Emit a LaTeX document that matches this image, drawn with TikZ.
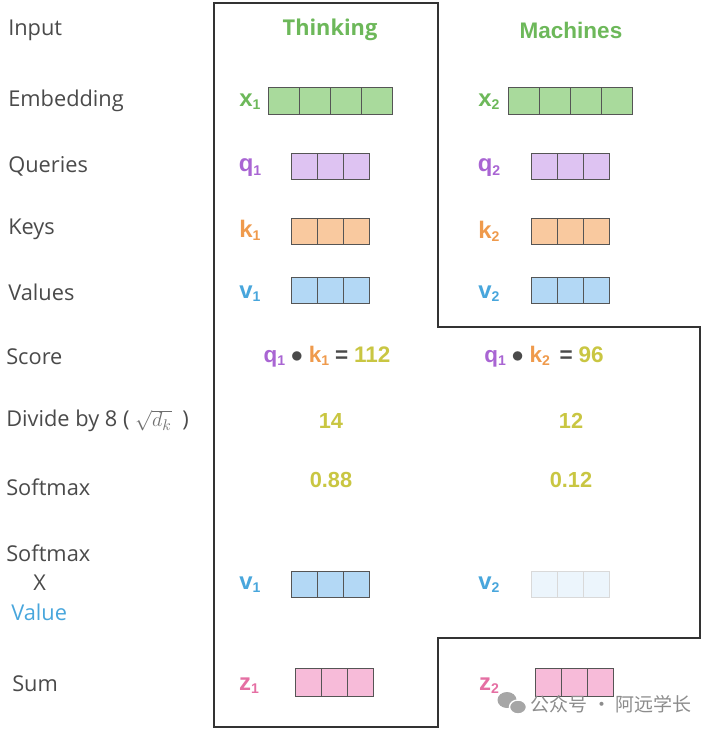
\documentclass[tikz,border=0pt]{standalone}
\usepackage{fontspec}
\setmainfont{Open Sans}
\newfontfamily\hv{Liberation Sans}
\newfontfamily\cjk{Noto Sans CJK SC}

\definecolor{labelgray}{HTML}{4A4A4A}
\definecolor{wordgreen}{HTML}{6DB85A}
\definecolor{embfill}{HTML}{A9DA9C}
\definecolor{qpurple}{HTML}{A965D3}
\definecolor{qfill}{HTML}{DEC3F2}
\definecolor{korange}{HTML}{EF9A4C}
\definecolor{kfill}{HTML}{F9C99F}
\definecolor{vblue}{HTML}{48A6DC}
\definecolor{vfill}{HTML}{B3D8F5}
\definecolor{zpink}{HTML}{E56FA3}
\definecolor{zfill}{HTML}{F7BBD9}
\definecolor{numolive}{HTML}{C9C642}
\definecolor{cellline}{HTML}{555555}

% vector name with a small lowered index
\newcommand{\vn}[2]{{\hv\bfseries #1\raisebox{-0.25ex}{\fontsize{10}{12}\selectfont #2}}}

\tikzset{
  rowlabel/.style={anchor=west, text=labelgray, inner sep=0pt, font=\fontsize{15.5}{18}\selectfont},
  wordhead/.style={text=wordgreen, font=\fontsize{15.5}{18}\selectfont\bfseries},
  vecname/.style={font=\fontsize{17}{20}\selectfont},
  numval/.style={text=numolive, font=\hv\bfseries\fontsize{15.5}{18}\selectfont},
  cell/.style={draw=cellline, line width=0.6pt, minimum width=0.65cm, minimum height=0.65cm, inner sep=0pt, outer sep=0pt},
  embcell/.style={cell, minimum width=0.775cm, minimum height=0.675cm},
  fadecell/.style={cell, draw=black!15, fill=vfill!25},
}

\begin{document}
\begin{tikzpicture}[x=0.025cm, y=-0.025cm]
    \useasboundingbox (0,0) rectangle (707,732);

    % outline of both word columns
    \draw[line width=0.8pt, draw=black!80] (214,3) -- (438,3) -- (438,327) -- (700,327)
        -- (700,638) -- (438,638) -- (438,727) -- (214,727) -- cycle;

    % Row labels
    \node[rowlabel] (linput) at (8,30) {Input};
    \node[rowlabel] (lemb) at (8,101) {Embedding};
    \node[rowlabel] (lquery) at (8,166) {Queries};
    \node[rowlabel] (lkey) at (8,229) {Keys};
    \node[rowlabel] (lvalue) at (8,292) {Values};
    \node[rowlabel] (lscore) at (6,357) {Score};
    \node[rowlabel] (ldiv) at (6,421) {Divide by 8 ( {\color{labelgray!80}$\sqrt{d_k}$}\enspace)};
    \node[rowlabel] (lsoft) at (6,487) {Softmax};
    \node[rowlabel] (lsoftb) at (6,553) {Softmax};
    \node[rowlabel] (ltimes) at (33,583) {X};
    \node[rowlabel, text=vblue] (lval) at (11,612) {Value};
    \node[rowlabel] (lsum) at (12,684) {Sum};

    % Word 1: Thinking
    \node[wordhead] (thinking) at (330,30) {Thinking};
    \node[vecname, text=wordgreen] (xa) at (250,102) {\vn{x}{1}};
    \foreach \i in {0,...,3}
        \node[embcell, fill=embfill] (xa\i) at (283.5+31*\i,100.5) {};
    \node[vecname, text=qpurple] (qa) at (250,168) {\vn{q}{1}};
    \foreach \i in {0,...,2}
        \node[cell, fill=qfill] (qa\i) at (304+26*\i,166) {};
    \node[vecname, text=korange] (ka) at (250,230) {\vn{k}{1}};
    \foreach \i in {0,...,2}
        \node[cell, fill=kfill] (ka\i) at (304+26*\i,231.5) {};
    \node[vecname, text=vblue] (va) at (250,294) {\vn{v}{1}};
    \foreach \i in {0,...,2}
        \node[cell, fill=vfill] (va\i) at (304+26*\i,290.5) {};
    \node[font=\fontsize{16}{19}\selectfont] (scorea) at (327,357)
        {{\color{qpurple}\vn{q}{1}} {\color{labelgray}$\bullet$} {\color{korange}\vn{k}{1}}
         {\color{labelgray}\hv\bfseries=} {\color{numolive}\hv\bfseries 112}};
    \node[numval] (diva) at (331,421) {14};
    \node[numval] (softa) at (331,480) {0.88};
    \node[vecname, text=vblue] (wa) at (250,585) {\vn{v}{1}};
    \foreach \i in {0,...,2}
        \node[cell, fill=vfill] (wa\i) at (304+26*\i,584) {};
    \node[vecname, text=zpink] (za) at (249,686) {\vn{z}{1}};
    \foreach \i in {0,...,2}
        \node[cell, fill=zfill, minimum height=0.7cm] (za\i) at (308+26*\i,682) {};

    % Word 2: Machines
    \node[wordhead, font=\hv\bfseries\fontsize{16}{19}\selectfont] (machines) at (571,30) {Machines};
    \node[vecname, text=wordgreen] (xb) at (489,102) {\vn{x}{2}};
    \foreach \i in {0,...,3}
        \node[embcell, fill=embfill] (xb\i) at (523.5+31*\i,100.5) {};
    \node[vecname, text=qpurple] (qb) at (489,168) {\vn{q}{2}};
    \foreach \i in {0,...,2}
        \node[cell, fill=qfill] (qb\i) at (544+26*\i,166) {};
    \node[vecname, text=korange] (kb) at (489,231) {\vn{k}{2}};
    \foreach \i in {0,...,2}
        \node[cell, fill=kfill] (kb\i) at (544+26*\i,231.5) {};
    \node[vecname, text=vblue] (vb) at (489,294) {\vn{v}{2}};
    \foreach \i in {0,...,2}
        \node[cell, fill=vfill] (vb\i) at (544+26*\i,290.5) {};
    \node[font=\fontsize{16}{19}\selectfont] (scoreb) at (544,357)
        {{\color{qpurple}\vn{q}{1}} {\color{labelgray}$\bullet$} {\color{korange}\vn{k}{2}}
         \,{\color{labelgray}\hv\bfseries=} {\color{numolive}\hv\bfseries 96}};
    \node[numval] (divb) at (571,421) {12};
    \node[numval] (softb) at (571,480) {0.12};
    \node[vecname, text=vblue] (wb) at (489,585) {\vn{v}{2}};
    \foreach \i in {0,...,2}
        \node[fadecell] (wb\i) at (544+26*\i,584) {};
    \node[vecname, text=zpink] (zb) at (489,686) {\vn{z}{2}};
    \foreach \i in {0,...,2}
        \node[cell, fill=zfill, minimum height=0.7cm] (zb\i) at (548+26*\i,682) {};

    % watermark
    \fill[black!35] (507,700) ellipse (9.5 and 8);
    \fill[black!35, draw=white, line width=1pt] (518,707) ellipse (8.5 and 7);
    \node[anchor=west, text=black!45, font=\cjk\fontsize{13.5}{16}\selectfont] (mark) at (526,704) {公众号 · 阿远学长};
\end{tikzpicture}
\end{document}
